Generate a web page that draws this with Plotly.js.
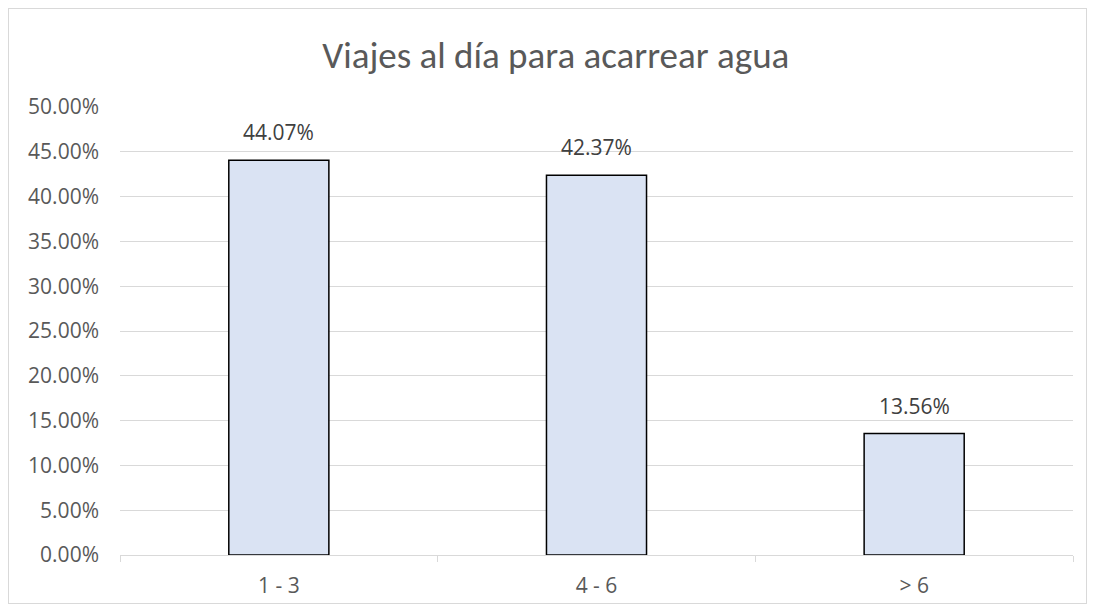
<!DOCTYPE html>
<html><head><meta charset="utf-8">
<script src="https://cdn.plot.ly/plotly-3.0.1.min.js"></script>
<style>
html,body{margin:0;padding:0;background:#fff;}
#wrap{position:relative;width:1094px;height:611px;}
#chart{width:1094px;height:611px;}
#frame{position:absolute;left:8px;top:8px;width:1077px;height:594px;border:1px solid #d9d9d9;pointer-events:none;}
</style></head>
<body><div id="wrap"><div id="chart"></div><div id="frame"></div></div>
<script>
const categories = ["1 - 3", "4 - 6", "> 6"];
const values = [0.4407, 0.4237, 0.1356];
const labels = ["44.07%", "42.37%", "13.56%"];
const yTicks = [0,0.05,0.10,0.15,0.20,0.25,0.30,0.35,0.40,0.45,0.50];

const tfont = "'Open Sans', 'Noto Sans', sans-serif";
const hfont = "Carlito, Calibri, Lato, sans-serif";
const annotations = categories.map((c,i)=>({
  x:c, y:values[i], xref:'x', yref:'y', text:labels[i], showarrow:false,
  yanchor:'bottom', yshift:12, font:{family:tfont,size:21,color:'#404040'}
}));
Plotly.newPlot('chart', [{
  type:'bar', x:categories, y:values,
  marker:{color:'#dae3f3', line:{color:'#000000', width:1.5}},
  width:0.315, hoverinfo:'skip'
}], {
  width:1094, height:611,
  margin:{l:120, r:21, t:107, b:56},
  paper_bgcolor:'#fff', plot_bgcolor:'#fff',
  title:{text:'Viajes al día para acarrear agua', font:{family:hfont,size:37,color:'#595959'}, x:0.508, xanchor:'center', y:0.91, yanchor:'middle'},
  xaxis:{type:'category', showgrid:false, showline:true, linecolor:'#d9d9d9', linewidth:1,
    ticks:'outside', tickson:'boundaries', ticklen:6, tickcolor:'#d9d9d9', ticklabelstandoff:12,
    tickfont:{family:tfont,size:21,color:'#595959'}, fixedrange:true},
  yaxis:{range:[0,0.5], tickvals:yTicks, tickformat:'.2%', showgrid:true, gridcolor:'#d9d9d9', gridwidth:1,
    zeroline:false, showline:false, ticks:'', ticklen:0, ticklabelstandoff:20,
    tickfont:{family:tfont,size:21,color:'#595959'}, fixedrange:true},
  annotations:annotations,
  bargap:0.685, showlegend:false
}, {staticPlot:true});
</script></body></html>
